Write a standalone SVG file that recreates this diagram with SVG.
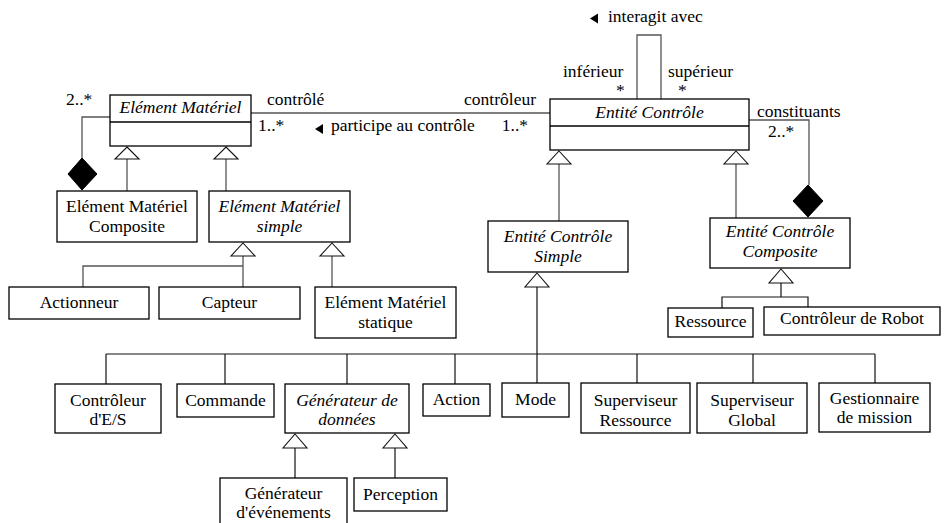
<svg xmlns="http://www.w3.org/2000/svg" width="945" height="523" viewBox="0 0 945 523">
  <style>
    text { font-family: "Liberation Serif", "Times New Roman", serif; font-size: 17.5px; fill: #000; }
    .it { font-style: italic; }
    .c { text-anchor: middle; }
    .e { text-anchor: end; }
    .box { fill: #fff; stroke: #000; stroke-width: 1.3; }
    .div { stroke: #000; stroke-width: 1.3; }
    .ln { fill: none; stroke: #555; stroke-width: 1.3; }
    .lk { fill: none; stroke: #111; stroke-width: 1.2; }
    .gen { fill: #fff; stroke: #111; stroke-width: 1.1; }
    .dia { fill: #000; stroke: #000; stroke-width: 1; }
    .dir { fill: #000; }
  </style>

  <!-- connectors: associations, compositions, generalisations -->
  <g id="connectors">
    <!-- association Elément Matériel / Entité Contrôle -->
    <line class="ln" x1="251" y1="113" x2="550" y2="113"/>
    <text x="267" y="105">contrôlé</text>
    <text x="536" y="105" class="e">contrôleur</text>
    <text x="258" y="131">1..*</text>
    <text x="528" y="131" class="e">1..*</text>
    <polygon class="dir" points="315,129 323,124 323,134"/>
    <text x="331" y="131">participe au contrôle</text>

    <!-- self association on Entité Contrôle -->
    <polyline class="ln" points="637,99 637,35 661,35 661,99"/>
    <polygon class="dir" points="590,18.5 598,13.5 598,23.5"/>
    <text x="608" y="22">interagit avec</text>
    <text x="563" y="77">inférieur</text>
    <text x="616" y="96">*</text>
    <text x="668" y="77">supérieur</text>
    <text x="678" y="96">*</text>

    <!-- composition: Elément Matériel Composite -->
    <polyline class="ln" points="110,117 82,117 82,158"/>
    <polygon class="dia" points="82,158 97,174 82,190 68,174"/>
    <text x="66" y="105">2..*</text>

    <!-- composition: Entité Contrôle Composite -->
    <polyline class="ln" points="749,120 809,120 809,185"/>
    <polygon class="dia" points="808,185 823,201 808,217 793,201"/>
    <text x="757" y="117">constituants</text>
    <text x="768" y="137">2..*</text>

    <!-- generalisations of Elément Matériel -->
    <line class="ln" x1="127" y1="159" x2="127" y2="191"/>
    <polygon class="gen" points="127,147 139,159 115,159"/>
    <line class="ln" x1="226" y1="159" x2="226" y2="191"/>
    <polygon class="gen" points="226,147 238,159 214,159"/>

    <!-- generalisations of Elément Matériel simple -->
    <polyline class="ln" points="243,256 243,287"/>
    <polyline class="ln" points="243,266 83,266 83,287"/>
    <polygon class="gen" points="243,243 255,256 231,256"/>
    <line class="ln" x1="332" y1="256" x2="332" y2="287"/>
    <polygon class="gen" points="332,243 344,256 320,256"/>

    <!-- generalisations of Entité Contrôle -->
    <line class="ln" x1="559" y1="164" x2="559" y2="221"/>
    <polygon class="gen" points="559,151 571,164 547,164"/>
    <line class="ln" x1="736" y1="164" x2="736" y2="218"/>
    <polygon class="gen" points="736,151 748,164 724,164"/>

    <!-- generalisations of Entité Contrôle Composite -->
    <polyline class="lk" points="781,283 781,297"/>
    <polyline class="lk" points="722,308 722,297 808,297 808,307"/>
    <polygon class="gen" points="781,269 793,283 769,283"/>

    <!-- generalisations of Entité Contrôle Simple -->
    <line class="lk" x1="537" y1="287" x2="537" y2="383"/>
    <line class="lk" x1="106" y1="354" x2="875" y2="354"/>
    <line class="lk" x1="106" y1="354" x2="106" y2="384"/>
    <line class="lk" x1="225" y1="354" x2="225" y2="384"/>
    <line class="lk" x1="347" y1="354" x2="347" y2="384"/>
    <line class="lk" x1="455" y1="354" x2="455" y2="384"/>
    <line class="lk" x1="637" y1="354" x2="637" y2="383"/>
    <line class="lk" x1="753" y1="354" x2="753" y2="383"/>
    <line class="lk" x1="875" y1="354" x2="875" y2="383"/>
    <polygon class="gen" points="537,273 549,287 525,287"/>

    <!-- generalisations of Générateur de données -->
    <line class="lk" x1="295" y1="448" x2="295" y2="478"/>
    <polygon class="gen" points="295,434 307,448 283,448"/>
    <line class="lk" x1="395" y1="448" x2="395" y2="478"/>
    <polygon class="gen" points="395,434 407,448 383,448"/>
  </g>

  <g id="element-materiel">
    <rect class="box" x="110" y="95" width="141" height="51"/>
    <line class="div" x1="110" y1="122" x2="251" y2="122"/>
    <text x="180.5" y="113" class="c it">Elément Matériel</text>
  </g>

  <g id="element-materiel-composite">
    <rect class="box" x="57" y="191" width="140" height="51"/>
    <text x="127" y="212" class="c">Elément Matériel</text>
    <text x="127" y="232" class="c">Composite</text>
  </g>

  <g id="element-materiel-simple">
    <rect class="box" x="209" y="191" width="141" height="51"/>
    <text x="279.5" y="212" class="c it">Elément Matériel</text>
    <text x="279.5" y="232" class="c it">simple</text>
  </g>

  <g id="actionneur">
    <rect class="box" x="9" y="287" width="140" height="32"/>
    <text x="79" y="308" class="c">Actionneur</text>
  </g>

  <g id="capteur">
    <rect class="box" x="159" y="287" width="141" height="32"/>
    <text x="229.5" y="308" class="c">Capteur</text>
  </g>

  <g id="element-materiel-statique">
    <rect class="box" x="315" y="287" width="141" height="51"/>
    <text x="385.5" y="308" class="c">Elément Matériel</text>
    <text x="385.5" y="328" class="c">statique</text>
  </g>

  <g id="entite-controle">
    <rect class="box" x="550" y="99" width="199" height="51"/>
    <line class="div" x1="550" y1="126" x2="749" y2="126"/>
    <text x="649.5" y="118" class="c it">Entité Contrôle</text>
  </g>

  <g id="entite-controle-simple">
    <rect class="box" x="488" y="221" width="140" height="51"/>
    <text x="558" y="242" class="c it">Entité Contrôle</text>
    <text x="558" y="262" class="c it">Simple</text>
  </g>

  <g id="entite-controle-composite">
    <rect class="box" x="710" y="218" width="140" height="50"/>
    <text x="780" y="237" class="c it">Entité Contrôle</text>
    <text x="780" y="257" class="c it">Composite</text>
  </g>

  <g id="ressource">
    <rect class="box" x="668" y="308" width="85" height="29"/>
    <text x="710.5" y="327" class="c">Ressource</text>
  </g>

  <g id="controleur-robot">
    <rect class="box" x="764" y="307" width="176" height="28"/>
    <text x="852" y="324" class="c">Contrôleur de Robot</text>
  </g>

  <g id="controleur-es">
    <rect class="box" x="55" y="384" width="106" height="49"/>
    <text x="108" y="406" class="c">Contrôleur</text>
    <text x="108" y="425" class="c">d'E/S</text>
  </g>

  <g id="commande">
    <rect class="box" x="177" y="384" width="97" height="33"/>
    <text x="225.5" y="406" class="c">Commande</text>
  </g>

  <g id="generateur-donnees">
    <rect class="box" x="285" y="384" width="124" height="49"/>
    <text x="347" y="406" class="c it">Générateur de</text>
    <text x="347" y="425" class="c it">données</text>
  </g>

  <g id="action">
    <rect class="box" x="423" y="384" width="67" height="32"/>
    <text x="456.5" y="405" class="c">Action</text>
  </g>

  <g id="mode">
    <rect class="box" x="502" y="383" width="67" height="34"/>
    <text x="535.5" y="405" class="c">Mode</text>
  </g>

  <g id="superviseur-ressource">
    <rect class="box" x="581" y="383" width="109" height="50"/>
    <text x="635.5" y="406" class="c">Superviseur</text>
    <text x="635.5" y="426" class="c">Ressource</text>
  </g>

  <g id="superviseur-global">
    <rect class="box" x="697" y="383" width="110" height="50"/>
    <text x="752" y="406" class="c">Superviseur</text>
    <text x="752" y="426" class="c">Global</text>
  </g>

  <g id="gestionnaire-mission">
    <rect class="box" x="819" y="383" width="111" height="49"/>
    <text x="874.5" y="404" class="c">Gestionnaire</text>
    <text x="874.5" y="423" class="c">de mission</text>
  </g>

  <g id="generateur-evenements">
    <rect class="box" x="220" y="478" width="127" height="52"/>
    <text x="283.5" y="499" class="c">Générateur</text>
    <text x="283.5" y="518" class="c">d'événements</text>
  </g>

  <g id="perception">
    <rect class="box" x="354" y="478" width="93" height="33"/>
    <text x="400.5" y="500" class="c">Perception</text>
  </g>
</svg>
